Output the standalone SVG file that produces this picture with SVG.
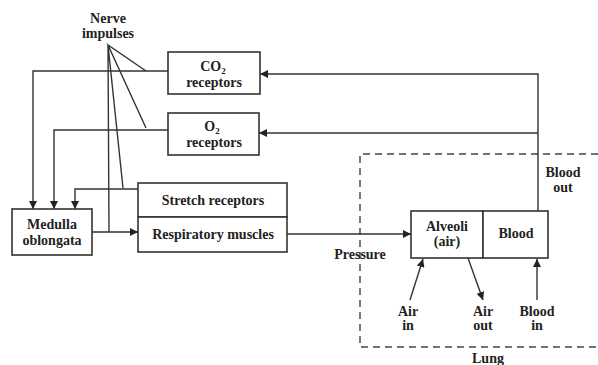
<svg xmlns="http://www.w3.org/2000/svg" width="598" height="365" viewBox="0 0 598 365">
<style>
.box{fill:#fff;stroke:#333;stroke-width:1.6}
.ln{fill:none;stroke:#333;stroke-width:1.4}
.dash{fill:none;stroke:#444;stroke-width:1.4;stroke-dasharray:7,5}
text{font-family:"Liberation Serif","DejaVu Serif",serif;font-size:14px;font-weight:bold;fill:#222;text-anchor:middle}
</style>
<defs>
<marker id="ah" viewBox="0 0 10 10" refX="10" refY="5" markerWidth="8" markerHeight="8" markerUnits="userSpaceOnUse" orient="auto">
<path d="M0,0 L10,5 L0,10 z" fill="#222"/>
</marker>
</defs>
<rect width="598" height="365" fill="#fff"/>
<path class="dash" d="M598,154 H360 V347 H598"/>
<g id="connectors">
<path class="ln" d="M168,71 H33 V209" marker-end="url(#ah)"/>
<path class="ln" d="M168,130 H54 V209" marker-end="url(#ah)"/>
<path class="ln" d="M138,189 H75 V209" marker-end="url(#ah)"/>
<path class="ln" d="M92,232 H138" marker-end="url(#ah)"/>
<path class="ln" d="M287,234 H411" marker-end="url(#ah)"/>
<path class="ln" d="M538,211 V74 H260" marker-end="url(#ah)"/>
<path class="ln" d="M538,133 H259" marker-end="url(#ah)"/>
<path class="ln" d="M410,300 L423,259" marker-end="url(#ah)"/>
<path class="ln" d="M468,258 L483,300" marker-end="url(#ah)"/>
<path class="ln" d="M537,300 V259" marker-end="url(#ah)"/>
<path class="ln" d="M146,71 L108,45 L146,128 M108,45 L123,188 M108,45 L109,232"/>
</g>
<g id="nerve">
<text x="108" y="23">Nerve</text>
<text x="108" y="38">impulses</text>
</g>
<g id="co2">
<rect class="box" x="168" y="52" width="92" height="42"/>
<text x="213" y="71">CO<tspan font-size="9" dy="3">2</tspan></text>
<text x="214" y="87">receptors</text>
</g>
<g id="o2">
<rect class="box" x="168" y="113" width="91" height="42"/>
<text x="212" y="131">O<tspan font-size="9" dy="3">2</tspan></text>
<text x="214" y="147">receptors</text>
</g>
<g id="medulla">
<rect class="box" x="12" y="209" width="80" height="46"/>
<text x="52" y="229">Medulla</text>
<text x="52" y="245">oblongata</text>
</g>
<g id="stretch">
<rect class="box" x="138" y="183" width="149" height="34"/>
<text x="213" y="205">Stretch receptors</text>
</g>
<g id="resp">
<rect class="box" x="138" y="217" width="149" height="35"/>
<text x="213" y="239">Respiratory muscles</text>
</g>
<g id="alveoli">
<rect class="box" x="411" y="211" width="72" height="47"/>
<text x="447" y="231">Alveoli</text>
<text x="447" y="246">(air)</text>
</g>
<g id="blood">
<rect class="box" x="483" y="211" width="65" height="47"/>
<text x="516" y="238">Blood</text>
</g>
<g id="labels">
<text x="563" y="177">Blood</text>
<text x="563" y="192">out</text>
<text x="360" y="259">Pressure</text>
<text x="408" y="316">Air</text>
<text x="408" y="330">in</text>
<text x="483" y="316">Air</text>
<text x="483" y="330">out</text>
<text x="537" y="316">Blood</text>
<text x="537" y="330">in</text>
<text x="488" y="363">Lung</text>
</g>
</svg>
